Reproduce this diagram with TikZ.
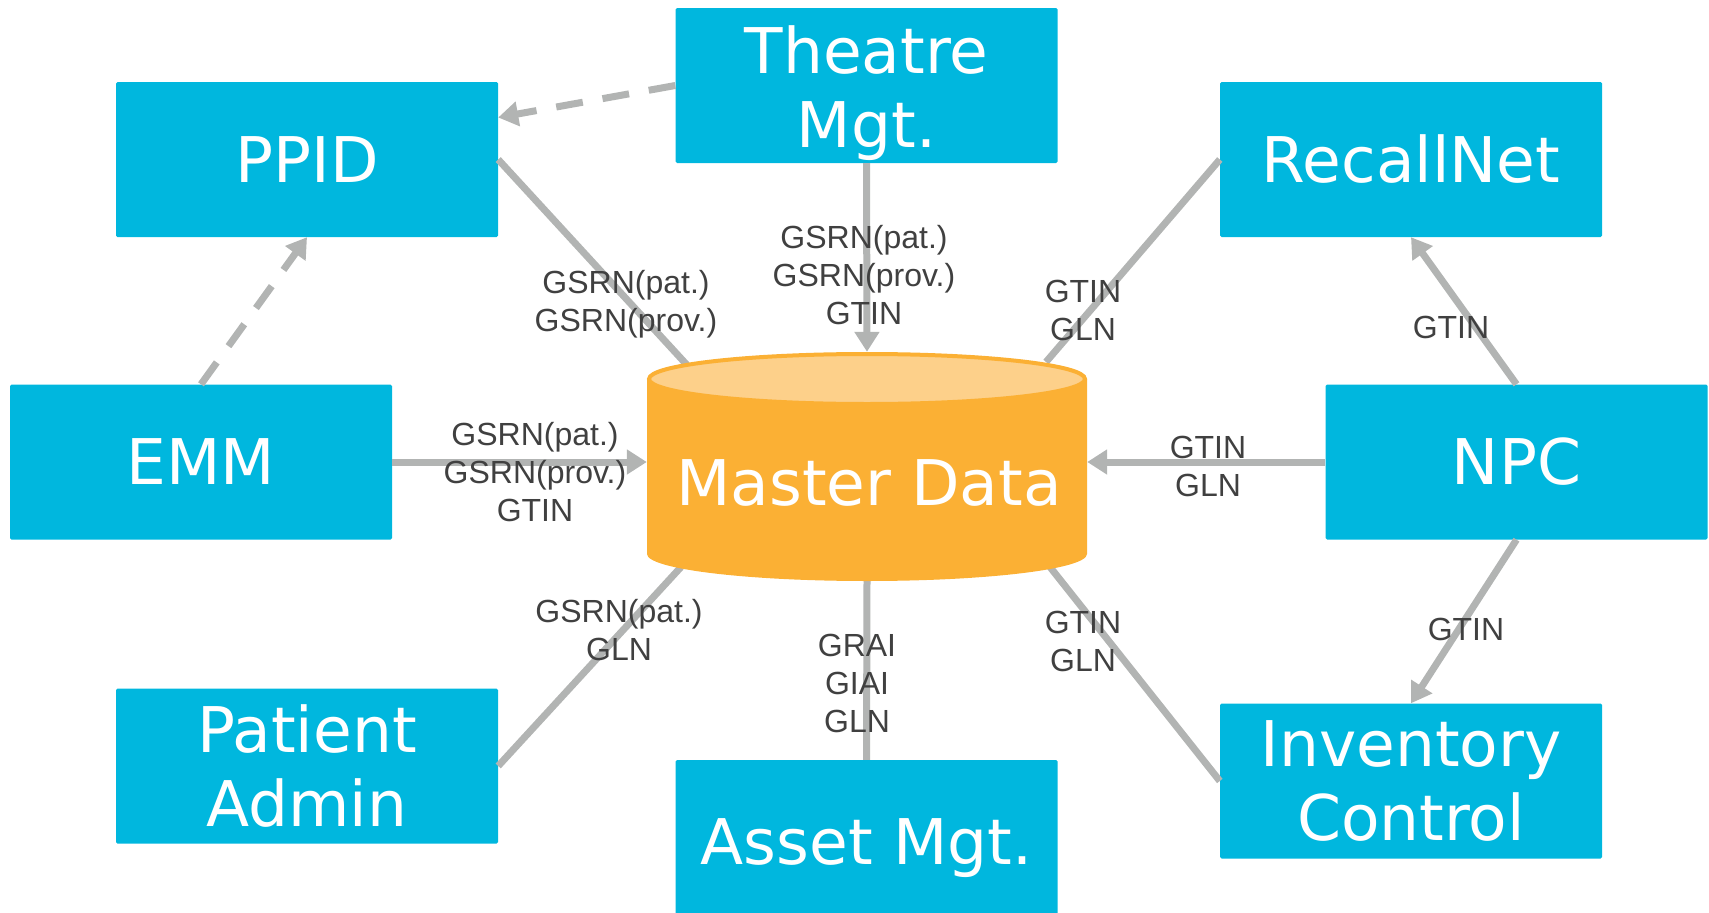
\documentclass[tikz,border=0pt]{standalone}
\usepackage{fontspec}
\setmainfont{DejaVu Sans}
\newfontfamily\lblfont{Liberation Sans}
\usepackage{tikz}
\usetikzlibrary{arrows.meta,positioning}
\definecolor{boxcyan}{RGB}{0,183,222}
\definecolor{linkgray}{RGB}{178,180,179}
\definecolor{mdorange}{RGB}{251,176,52}
\definecolor{mdtop}{RGB}{253,208,138}
\definecolor{lblgray}{RGB}{64,64,64}
\tikzstyle{sysbox} = [rectangle, fill=boxcyan, text=white, minimum width=382pt, minimum height=155pt, inner sep=0pt, rounded corners=1.5pt, align=center, font=\fontsize{63}{74}\selectfont]
\tikzstyle{link} = [draw=linkgray, line width=7pt]
\tikzstyle{arrow} = [link, -{Triangle[length=20pt,width=24pt]}]
\tikzstyle{dasharrow} = [arrow, dash pattern=on 27pt off 20pt]
\tikzstyle{lbl} = [text=lblgray, align=center, inner sep=0pt, font=\lblfont\fontsize{32}{38}\selectfont]

\begin{document}
\begin{tikzpicture}[x=1pt,y=-1pt]
\useasboundingbox (0,0) rectangle (1709,913);
% systems
\node[sysbox] (theatre) at (866.5,85.5) {\rule{0pt}{63pt}Theatre\\Mgt.};
\node[sysbox] (ppid) at (307,159.5) {PPID};
\node[sysbox] (recall) at (1411,159.5) {RecallNet};
\node[sysbox] (emm) at (201,462) {EMM};
\node[sysbox] (npc) at (1516.5,462) {NPC};
\node[sysbox] (patient) at (307,766) {Patient\\Admin};
\node[sysbox, minimum height=176pt] (asset) at (866.5,848) {Asset Mgt.};
\node[sysbox] (inventory) at (1411,781) {Inventory\\Control};
% master data (anchors)
\node[minimum width=440pt, minimum height=229pt, inner sep=0pt] (md) at (867,466.5) {};
\coordinate (mdnw) at (687,365);
\coordinate (mdne) at (1046,362);
\coordinate (mdsw) at (681,567);
\coordinate (mdse) at (1050,567);
% links behind the cylinder
\draw[link] (ppid.east) -- (mdnw);
\draw[link] (recall.west) -- (mdne);
\draw[link] (patient.east) -- (mdsw);
\draw[link] (inventory.west) -- (mdse);
\draw[link] (asset.north) -- (md.south);
% cylinder
\fill[mdorange] (647,379) -- (647,554) arc[start angle=180,end angle=360,x radius=220pt,y radius=27pt] -- (1087,379) -- cycle;
\filldraw[fill=mdtop,draw=mdorange,line width=4pt] (867,379) ellipse[x radius=218pt,y radius=25pt];
\node[text=white, font=\fontsize{63}{74}\selectfont] (mdtext) at (869,483) {Master Data};
% arrows
\draw[arrow] (theatre.south) -- (md.north);
\draw[arrow] (emm.east) -- (emm -| md.west);
\draw[arrow] (npc.west) -- (npc -| md.east);
\draw[arrow] (npc.north) -- (recall.south);
\draw[arrow] (npc.south) -- (inventory.north);
\draw[dasharrow] (emm.north) -- (ppid.south);
\draw[dasharrow] (theatre.west) -- ([yshift=42pt]ppid.east);
% labels
\node[lbl] (lppid) at (626,304) {GSRN(pat.)\\GSRN(prov.)};
\node[lbl] (ltheatre) at (864,275) {GSRN(pat.)\\GSRN(prov.)\\GTIN};
\node[lbl] (lrecall) at (1083,310) {GTIN\\GLN};
\node[lbl] (lnpcrecall) at (1451,327) {GTIN};
\node[lbl] (lnpc) at (1208,466) {GTIN\\GLN};
\node[lbl] (lemm) at (535,472) {GSRN(pat.)\\GSRN(prov.)\\GTIN};
\node[lbl] (lpatient) at (619,630) {GSRN(pat.)\\GLN};
\node[lbl] (lasset) at (857,683) {GRAI\\GIAI\\GLN};
\node[lbl] (linventory) at (1083,641) {GTIN\\GLN};
\node[lbl] (lnpcinv) at (1466,629) {GTIN};
\end{tikzpicture}
\end{document}
